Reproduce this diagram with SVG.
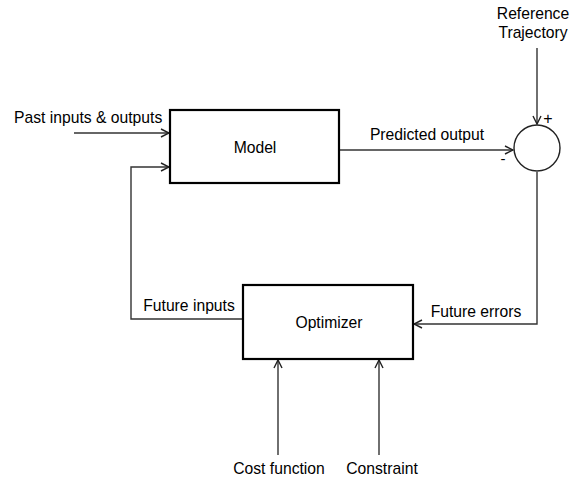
<svg xmlns="http://www.w3.org/2000/svg" width="572" height="479" viewBox="0 0 572 479">
<defs>
<marker id="arr" viewBox="0 0 10 10" refX="9" refY="5" markerWidth="10" markerHeight="10" markerUnits="userSpaceOnUse" orient="auto">
<path d="M1,1 L9,5 L1,9" fill="none" stroke="#222" stroke-width="1.4"/>
</marker>
</defs>
<style>
.box{fill:#fff;stroke:#000;stroke-width:2.2}
.ln{fill:none;stroke:#333;stroke-width:1.4}
.t{font-family:"Liberation Sans",Arial,sans-serif;font-size:15.7px;fill:#000}
</style>
<rect width="572" height="479" fill="#fff"/>
<g id="connectors">
<path class="ln" d="M74,133 H169" marker-end="url(#arr)"/>
<path class="ln" d="M243,319 H131 V167 H169" marker-end="url(#arr)"/>
<path class="ln" d="M340,150 H513" marker-end="url(#arr)"/>
<path class="ln" d="M537,48 V124" marker-end="url(#arr)"/>
<path class="ln" d="M537,172 V324 H414" marker-end="url(#arr)"/>
<path class="ln" d="M278,455 V360" marker-end="url(#arr)"/>
<path class="ln" d="M379,455 V360" marker-end="url(#arr)"/>
</g>
<g id="model">
<rect class="box" x="170" y="110" width="169" height="73"/>
<text class="t" x="255" y="153" text-anchor="middle">Model</text>
</g>
<g id="optimizer">
<rect class="box" x="243" y="285" width="170" height="74"/>
<text class="t" x="329" y="328" text-anchor="middle">Optimizer</text>
</g>
<g id="sum">
<circle cx="537" cy="148" r="23" fill="#fff" stroke="#222" stroke-width="1.4"/>
<text class="t" x="548" y="124" text-anchor="middle" style="font-size:16px">+</text>
<text class="t" x="503" y="164" text-anchor="middle" style="font-size:15px">-</text>
</g>
<g id="labels">
<text class="t" x="14" y="123">Past inputs &amp; outputs</text>
<text class="t" x="427" y="140" text-anchor="middle">Predicted output</text>
<text class="t" x="533" y="19" text-anchor="middle">Reference</text>
<text class="t" x="533" y="38" text-anchor="middle">Trajectory</text>
<text class="t" x="189" y="311" text-anchor="middle">Future inputs</text>
<text class="t" x="476" y="317" text-anchor="middle">Future errors</text>
<text class="t" x="279" y="474" text-anchor="middle">Cost function</text>
<text class="t" x="382" y="474" text-anchor="middle">Constraint</text>
</g>
</svg>
